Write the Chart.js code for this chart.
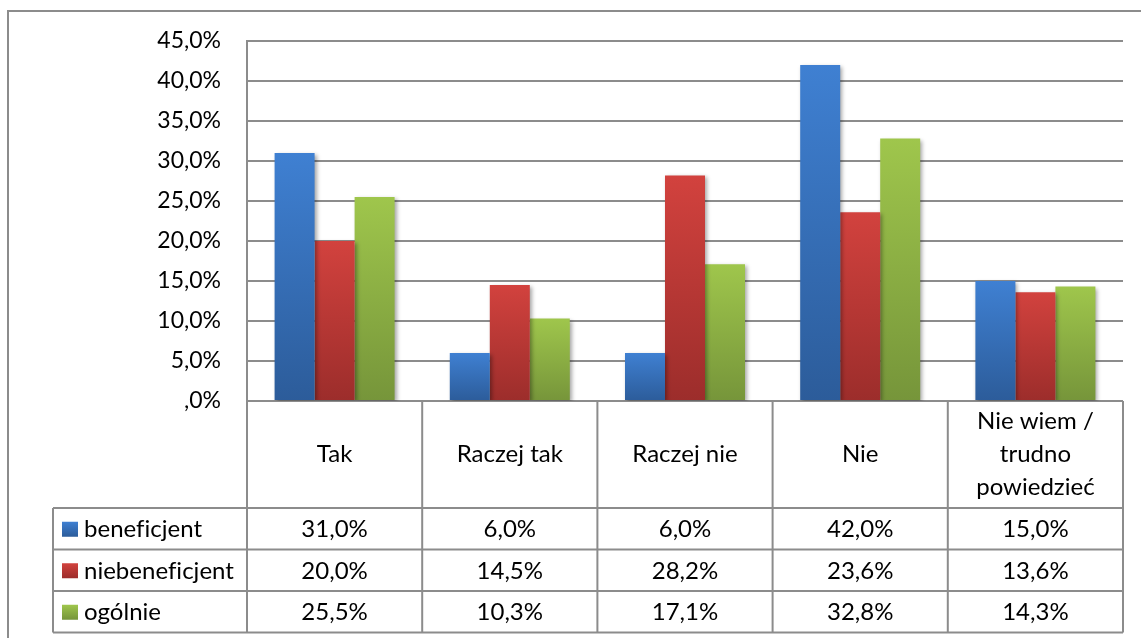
<!DOCTYPE html>
<html>
<head>
<meta charset="utf-8">
<script src="https://cdn.jsdelivr.net/npm/chart.js@4.4.1/dist/chart.umd.min.js"></script>
<style>
  body { margin: 0; background: #fff; }
  #wrap { width: 1141px; height: 638px; }
</style>
</head>
<body>
<div id="wrap"><canvas id="chart" width="1141" height="638"></canvas></div>
<script>
const categories = ["Tak", "Raczej tak", "Raczej nie", "Nie", ["Nie wiem /", "trudno", "powiedzieć"]];
const seriesNames = ["beneficjent", "niebeneficjent", "ogólnie"];
const beneficjent = [31.0, 6.0, 6.0, 42.0, 15.0];
const niebeneficjent = [20.0, 14.5, 28.2, 23.6, 13.6];
const ogolnie = [25.5, 10.3, 17.1, 32.8, 14.3];
const yTickLabels = [",0%", "5,0%", "10,0%", "15,0%", "20,0%", "25,0%", "30,0%", "35,0%", "40,0%", "45,0%"];

const FONT = "Lato, 'Open Sans', sans-serif";
const GRID = "#8c8c8c";

// top / bottom colours of each bar gradient
const barColors = [
  ["#3f80d2", "#2c5c9a"],
  ["#d2423e", "#9c2d2b"],
  ["#9fc64c", "#76953a"],
];

function fmt(v) {
  return v.toFixed(1).replace(".", ",") + "%";
}

function barFill(idx) {
  return (ctx) => {
    const chart = ctx.chart;
    const ys = chart.scales.y;
    if (!ys || ctx.type !== "data") return barColors[idx][0];
    const top = ys.getPixelForValue(ctx.raw);
    const bot = ys.getPixelForValue(0);
    if (!isFinite(top) || !isFinite(bot)) return barColors[idx][0];
    const g = chart.ctx.createLinearGradient(0, top, 0, bot + 0.01);
    g.addColorStop(0, barColors[idx][0]);
    g.addColorStop(1, barColors[idx][1]);
    return g;
  };
}

const frame = {
  id: "frame",
  beforeDraw(chart) {
    const c = chart.ctx;
    c.save();
    c.strokeStyle = GRID;
    c.lineWidth = 2;
    c.beginPath();
    c.moveTo(8, chart.height);
    c.lineTo(8, 11);
    c.lineTo(chart.width, 11);
    c.stroke();
    c.restore();
  },
  beforeDatasetsDraw(chart) {
    const c = chart.ctx;
    c.save();
    c.shadowColor = "rgba(0,0,0,0.35)";
    c.shadowBlur = 4;
    c.shadowOffsetX = 2;
    c.shadowOffsetY = 2;
  },
  afterDatasetsDraw(chart) {
    chart.ctx.restore();
  },
};

const dataTable = {
  id: "dataTable",
  afterDraw(chart) {
    const c = chart.ctx;
    const xs = chart.scales.x;
    const area = chart.chartArea;
    const n = categories.length;
    const rows = [beneficjent, niebeneficjent, ogolnie];
    const headTop = area.bottom;
    const headBottom = 508;
    const rowH = 41.5;
    const legendLeft = 53;
    const tableBottom = headBottom + rowH * rows.length;

    c.save();
    c.strokeStyle = GRID;
    c.lineWidth = 2;
    c.beginPath();
    // vertical lines
    for (let i = 0; i <= n; i++) {
      const x = xs.getPixelForValue(i - 0.5);
      c.moveTo(x, headTop);
      c.lineTo(x, tableBottom);
    }
    c.moveTo(legendLeft, headBottom);
    c.lineTo(legendLeft, tableBottom);
    // horizontal lines
    for (let r = 0; r <= rows.length; r++) {
      const y = headBottom + r * rowH;
      c.moveTo(legendLeft, y);
      c.lineTo(area.right, y);
    }
    c.stroke();

    c.fillStyle = "#000";
    c.font = "24px " + FONT;
    if ("letterSpacing" in c) c.letterSpacing = "0.01px"; // no fi ligature
    c.textAlign = "center";
    c.textBaseline = "middle";

    // header labels
    const lineH = 33;
    const headMid = (headTop + headBottom) / 2;
    categories.forEach((cat, i) => {
      const lines = Array.isArray(cat) ? cat : [cat];
      const x = xs.getPixelForValue(i);
      const y0 = headMid - ((lines.length - 1) * lineH) / 2;
      lines.forEach((ln, k) => c.fillText(ln, x, y0 + k * lineH));
    });

    // values
    rows.forEach((vals, r) => {
      const y = headBottom + r * rowH + rowH / 2 + 1;
      vals.forEach((v, i) => {
        c.fillText(fmt(v), xs.getPixelForValue(i), y);
      });
    });

    // legend keys
    c.textAlign = "left";
    rows.forEach((vals, r) => {
      const y = headBottom + r * rowH + rowH / 2;
      const g = c.createLinearGradient(0, y - 7, 0, y + 8);
      g.addColorStop(0, barColors[r][0]);
      g.addColorStop(1, barColors[r][1]);
      c.fillStyle = g;
      c.fillRect(62, y - 7, 16, 15);
      c.fillStyle = "#000";
      c.fillText(seriesNames[r], 84, y + 1);
    });
    c.restore();
  },
};

new Chart(document.getElementById("chart"), {
  type: "bar",
  data: {
    labels: categories.map((c) => (Array.isArray(c) ? c.join(" ") : c)),
    datasets: [
      { label: seriesNames[0], data: beneficjent, backgroundColor: barFill(0) },
      { label: seriesNames[1], data: niebeneficjent, backgroundColor: barFill(1) },
      { label: seriesNames[2], data: ogolnie, backgroundColor: barFill(2) },
    ],
  },
  options: {
    responsive: false,
    animation: false,
    layout: { padding: { top: 41, right: 18, bottom: 237, left: 0 } },
    datasets: { bar: { categoryPercentage: 0.685, barPercentage: 1 } },
    plugins: {
      legend: { display: false },
      tooltip: { enabled: false },
    },
    scales: {
      x: { display: false },
      y: {
        min: 0,
        max: 45,
        afterFit(scale) { scale.width = 247; },
        ticks: {
          stepSize: 5,
          padding: 26,
          color: "#000",
          font: { family: FONT, size: 23 },
          callback: (v, i) => yTickLabels[i],
        },
        grid: { color: GRID, lineWidth: 2, drawTicks: false },
        border: { color: GRID, width: 2 },
      },
    },
  },
  plugins: [frame, dataTable],
});
</script>
</body>
</html>
